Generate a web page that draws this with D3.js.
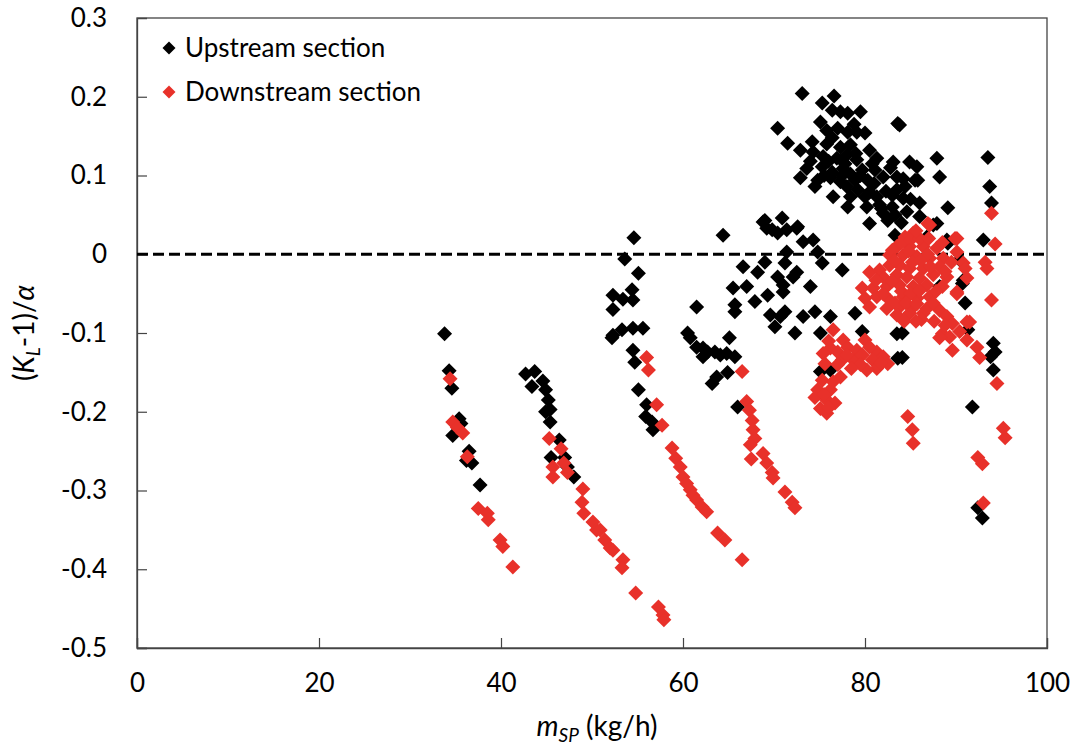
<!DOCTYPE html>
<html><head><meta charset="utf-8">
<script src="https://cdn.jsdelivr.net/npm/d3@7"></script>
<style>body{margin:0;background:#fff}</style>
</head><body>
<svg id="c" width="1079" height="748"></svg>
<script>
const xTicks = [0, 20, 40, 60, 80, 100];
const yTicks = [-0.5, -0.4, -0.3, -0.2, -0.1, 0, 0.1, 0.2, 0.3];
const yTickLabels = ["-0.5", "-0.4", "-0.3", "-0.2", "-0.1", "0", "0.1", "0.2", "0.3"];
const seriesNames = ["Upstream section", "Downstream section"];

const upstream = [
[33.8,-0.101],[34.3,-0.148],[34.6,-0.170],[35.4,-0.209],[35.6,-0.215],[34.7,-0.230],[36.5,-0.250],[36.2,-0.262],[36.8,-0.265],[37.7,-0.293],
[42.7,-0.152],[43.7,-0.149],[43.4,-0.168],[44.6,-0.161],[44.9,-0.172],[45.2,-0.185],[45.4,-0.197],[44.9,-0.200],[45.4,-0.213],[46.4,-0.236],[45.5,-0.258],[47.0,-0.258],[47.3,-0.270],[48.0,-0.283],
[54.6,0.021],[53.6,-0.006],[55.1,-0.024],[52.3,-0.052],[53.4,-0.057],[54.4,-0.045],[54.5,-0.058],[52.3,-0.070],[52.3,-0.103],[52.2,-0.106],[53.3,-0.096],[54.5,-0.094],[55.6,-0.094],[54.5,-0.122],[54.7,-0.137],[55.1,-0.172],[56.0,-0.191],[55.9,-0.206],[56.6,-0.213],[56.7,-0.223],
[64.4,0.024],[61.5,-0.067],[60.5,-0.100],[60.8,-0.106],[61.5,-0.118],[62.2,-0.119],[62.2,-0.130],[62.7,-0.124],[63.5,-0.124],[64.1,-0.128],[65.1,-0.106],[64.8,-0.126],[65.7,-0.130],[64.9,-0.150],[63.7,-0.156],[63.2,-0.164],[66.0,-0.194],
[69.0,0.043],[69.2,0.033],[70.9,0.046],[70.4,0.027],[71.4,0.031],[72.5,0.033],[73.2,0.016],[74.3,0.018],[74.8,0.003],[71.4,0.003],[75.3,-0.011],[77.5,-0.020],[66.6,-0.016],[69.0,-0.010],[68.2,-0.023],[71.2,-0.011],[72.5,-0.023],[72.1,-0.029],[70.4,-0.029],[71.0,-0.039],[65.5,-0.043],[67.0,-0.041],[74.0,-0.041],[71.0,-0.048],[69.3,-0.052],[67.9,-0.060],[65.7,-0.064],[65.7,-0.073],[69.6,-0.077],[71.2,-0.073],[70.1,-0.092],[70.7,-0.079],[73.2,-0.079],[74.5,-0.073],[76.2,-0.079],[75.1,-0.100],[72.3,-0.100],[78.9,-0.075],[79.7,-0.098],[76.2,-0.147],[75.1,-0.149],[83.5,-0.101],[83.6,-0.132],[68.8,0.041],[69.8,0.031],[72.6,0.035],
[73.1,0.204],[76.6,0.201],[75.3,0.192],[76.4,0.183],[77.3,0.181],[78.1,0.179],[79.5,0.181],[75.1,0.168],[83.6,0.166],[70.4,0.160],[75.8,0.157],[78.1,0.155],[79.1,0.155],[80.0,0.154],[71.5,0.141],[74.2,0.143],[76.4,0.148],[77.3,0.136],[78.4,0.139],[80.5,0.132],[72.9,0.132],[74.3,0.130],[75.4,0.124],[76.9,0.122],[78.0,0.126],[79.1,0.120],[81.3,0.122],[83.1,0.117],[84.9,0.117],[85.7,0.111],[73.6,0.109],[75.3,0.111],[76.4,0.104],[77.6,0.109],[78.4,0.102],[79.7,0.107],[81.1,0.107],[82.0,0.098],[72.9,0.097],[74.8,0.094],[76.2,0.097],[77.3,0.092],[78.9,0.094],[80.3,0.094],[83.5,0.098],[85.8,0.094],[74.5,0.086],[78.0,0.086],[79.2,0.082],[80.5,0.079],[83.5,0.082],[84.4,0.086],[76.5,0.073],[78.4,0.073],[80.0,0.073],[81.3,0.073],[83.0,0.075],[84.2,0.071],[78.1,0.060],[80.2,0.060],[81.6,0.063],[83.0,0.060],[86.0,0.065],[80.5,0.039],[82.0,0.052],[83.3,0.050],[84.6,0.054],[86.0,0.048],[83.3,0.024],[82.5,0.043],
[75.8,0.140],[77.0,0.160],[78.8,0.165],[76.0,0.118],[77.8,0.115],[79.5,0.100],[81.0,0.090],[82.3,0.080],[79.0,0.128],[77.5,0.100],[80.8,0.115],[82.8,0.110],[81.8,0.058],[84.0,0.040],[85.0,0.070],[74.0,0.118],[75.5,0.100],
[93.5,0.123],[93.7,0.086],[93.9,0.065],[83.8,0.164],[87.9,0.122],[88.2,0.098],[89.1,0.059],[87.9,0.039],[93.0,0.018],[87.5,0.037],[86.8,0.022],[89.1,0.014],[90.4,-0.007],[90.7,-0.037],[88.2,-0.041],[91.0,-0.062],[91.3,-0.096],[94.1,-0.113],[94.3,-0.124],[93.8,-0.130],[94.1,-0.147],[91.8,-0.194],[92.9,-0.335],[92.4,-0.322],[84.1,-0.100],[84.1,-0.131],[89.0,0.018],[90.8,-0.033],[84.2,0.096],[85.5,0.094]
];

const downstream = [
[34.4,-0.158],[34.7,-0.213],[35.2,-0.220],[35.8,-0.227],[36.3,-0.257],[37.5,-0.323],[38.5,-0.329],[38.6,-0.337],[39.9,-0.363],[40.2,-0.371],[41.3,-0.397],
[45.3,-0.234],[46.6,-0.247],[45.7,-0.270],[45.7,-0.283],[46.9,-0.265],[47.3,-0.277],[49.0,-0.298],[48.9,-0.315],[49.1,-0.329],[50.1,-0.340],[50.5,-0.350],[50.9,-0.350],[51.4,-0.363],[52.0,-0.373],[52.3,-0.376],[53.4,-0.388],[53.3,-0.398],[54.8,-0.430],[57.3,-0.448],[57.8,-0.458],[57.9,-0.464],
[56.0,-0.131],[56.2,-0.147],[57.1,-0.191],[57.7,-0.217],[58.8,-0.246],[59.2,-0.259],[59.7,-0.270],[60.0,-0.283],[60.4,-0.291],[60.8,-0.299],[61.1,-0.306],[61.5,-0.312],[62.1,-0.321],[62.6,-0.327],[63.8,-0.354],[64.6,-0.363],[66.5,-0.388],
[66.5,-0.149],[67.0,-0.187],[67.3,-0.198],[67.6,-0.211],[67.7,-0.223],[67.9,-0.234],[67.4,-0.242],[67.5,-0.260],[68.8,-0.253],[69.2,-0.265],[69.8,-0.277],[69.9,-0.284],[71.2,-0.302],[72.0,-0.315],[72.3,-0.322],
[76.5,-0.096],[77.6,-0.109],[76.2,-0.119],[77.0,-0.124],[78.1,-0.118],[79.1,-0.122],[75.4,-0.126],[75.6,-0.139],[77.5,-0.134],[78.7,-0.134],[79.7,-0.128],[80.0,-0.109],[81.3,-0.124],[82.0,-0.130],[82.5,-0.139],[80.8,-0.134],[81.3,-0.145],[80.2,-0.147],[77.3,-0.156],[75.3,-0.160],[74.8,-0.172],[76.2,-0.172],[74.5,-0.182],[75.8,-0.185],[76.7,-0.189],[75.1,-0.196],[75.8,-0.202],[84.7,-0.206],[85.2,-0.223],[85.3,-0.240],
[76.0,-0.110],[77.0,-0.140],[78.0,-0.128],[79.5,-0.140],[76.5,-0.162],[75.5,-0.178],[76.0,-0.195],[78.5,-0.145],[81.8,-0.138],[80.5,-0.118],
[86.9,0.039],[85.3,0.027],[84.4,0.022],[90.1,0.020],[83.5,0.010],[84.9,0.010],[86.4,0.010],[87.9,0.008],[90.1,0.003],[82.7,-0.001],[84.2,-0.001],[85.7,-0.003],[87.1,-0.005],[88.6,-0.005],[90.8,-0.011],[82.7,-0.014],[83.8,-0.014],[84.9,-0.018],[86.4,-0.018],[88.2,-0.016],[80.5,-0.023],[81.6,-0.020],[83.5,-0.026],[84.6,-0.029],[86.0,-0.030],[87.5,-0.026],[89.0,-0.029],[91.2,-0.030],[79.7,-0.043],[80.9,-0.043],[82.4,-0.041],[83.8,-0.039],[85.3,-0.041],[86.8,-0.039],[88.5,-0.041],[90.1,-0.048],[80.0,-0.056],[81.3,-0.054],[82.7,-0.058],[84.2,-0.054],[85.7,-0.056],[87.1,-0.054],[80.5,-0.067],[82.4,-0.069],[83.8,-0.067],[85.3,-0.067],[86.8,-0.069],[88.2,-0.071],[83.5,-0.077],[84.9,-0.075],[86.4,-0.075],[89.0,-0.079],[89.6,-0.088],[88.5,-0.101],[89.3,-0.105],[90.4,-0.098],[91.5,-0.086],[91.2,-0.109],[89.6,-0.122],[92.3,-0.118],
[83.0,0.005],[84.0,0.015],[85.0,0.018],[86.0,0.020],[85.6,0.030],[84.8,0.004],[86.9,0.000],[85.2,-0.010],[86.1,-0.008],[83.2,-0.008],[82.1,-0.030],[83.0,-0.034],[84.0,-0.047],[85.0,-0.050],[86.0,-0.046],[87.8,-0.047],[82.0,-0.050],[83.3,-0.062],[84.5,-0.062],[85.7,-0.063],[87.5,-0.062],[86.2,-0.083],[84.3,-0.085],[85.6,-0.085],[87.6,-0.085],[88.8,-0.090],[81.2,-0.033],[87.2,-0.016],[88.8,-0.022],[89.5,-0.010],[87.0,0.020],[88.5,0.015],
[93.9,0.052],[94.3,0.013],[93.2,-0.010],[93.4,-0.018],[93.9,-0.058],[94.5,-0.164],[95.2,-0.221],[95.4,-0.233],[92.4,-0.258],[92.9,-0.266],[93.0,-0.316],[87.1,0.037],[89.9,0.020],[91.0,-0.018],[90.1,-0.050],[91.2,-0.086],[92.6,-0.131],[88.2,-0.106]
];

const colors = ["#000000", "#e8312a"];
const font = "Lato, 'Open Sans', sans-serif";

const svg = d3.select("#c");
const m = {l: 137, r: 1047, t: 18, b: 648};
const x = d3.scaleLinear().domain([0, 100]).range([m.l, m.r]);
const y = d3.scaleLinear().domain([-0.5, 0.3]).range([m.b, m.t]);

// Frame
svg.append("rect").attr("x", m.l).attr("y", m.t).attr("width", m.r - m.l).attr("height", m.b - m.t)
  .attr("fill", "none").attr("stroke", "#444").attr("stroke-width", 1.3);

// Axes (ticks inside)
const xAxis = d3.axisBottom(x).tickValues(xTicks).tickSize(-10).tickPadding(26).tickFormat(d3.format("d"));
const gx = svg.append("g").attr("transform", `translate(0,${m.b})`).call(xAxis);
const yAxis = d3.axisLeft(y).tickValues(yTicks).tickSize(-10).tickPadding(30)
  .tickFormat((d, i) => yTickLabels[i]);
const gy = svg.append("g").attr("transform", `translate(${m.l},0)`).call(yAxis);
[gx, gy].forEach(g => {
  g.select(".domain").attr("stroke", "#444").attr("stroke-width", 1.3);
  g.selectAll(".tick line").attr("stroke", "#444").attr("stroke-width", 1.2);
  g.selectAll(".tick text").attr("font-family", font).attr("font-size", 26).attr("fill", "#000");
});
gy.selectAll(".tick").filter(d => d === 0.3).select("line").remove();

// Zero dashed line
svg.append("line").attr("x1", x(0)).attr("x2", x(100)).attr("y1", y(0)).attr("y2", y(0))
  .attr("stroke", "#000").attr("stroke-width", 3).attr("stroke-dasharray", "11,5");

const diamond = r => `M0,${-r}L${r},0L0,${r}L${-r},0Z`;

[upstream, downstream].forEach((data, k) => {
  svg.append("g").selectAll("path").data(data).join("path")
    .attr("d", diamond(7.5))
    .attr("transform", d => `translate(${x(d[0])},${y(d[1])})`)
    .attr("fill", colors[k]);
});

// Legend
const leg = svg.append("g");
seriesNames.forEach((name, k) => {
  const yy = 48 + k * 44;
  leg.append("path").attr("d", diamond(6.5)).attr("transform", `translate(169,${yy})`).attr("fill", colors[k]);
  leg.append("text").attr("x", 185).attr("y", yy + 9).attr("font-family", font).attr("font-size", 26)
    .attr("fill", "#000").text(name);
});

// X axis title
const xt = svg.append("text").attr("x", 597).attr("y", 736).attr("text-anchor", "middle")
  .attr("font-family", font).attr("font-size", 28).attr("fill", "#000");
xt.append("tspan").attr("font-style", "italic").text("m");
xt.append("tspan").attr("font-style", "italic").attr("font-size", 19).attr("dy", 6).text("SP");
xt.append("tspan").attr("dy", -6).text(" (kg/h)");

// Y axis title
const yt = svg.append("text").attr("transform", `translate(34,${(m.t + m.b) / 2}) rotate(-90)`)
  .attr("text-anchor", "middle").attr("font-family", font).attr("font-size", 28).attr("fill", "#000");
yt.append("tspan").text("(");
yt.append("tspan").attr("font-style", "italic").text("K");
yt.append("tspan").attr("font-style", "italic").attr("font-size", 19).attr("dy", 6).text("L");
yt.append("tspan").attr("dy", -6).text("-1)/");
yt.append("tspan").attr("font-style", "italic").text("α");
</script>
</body></html>
